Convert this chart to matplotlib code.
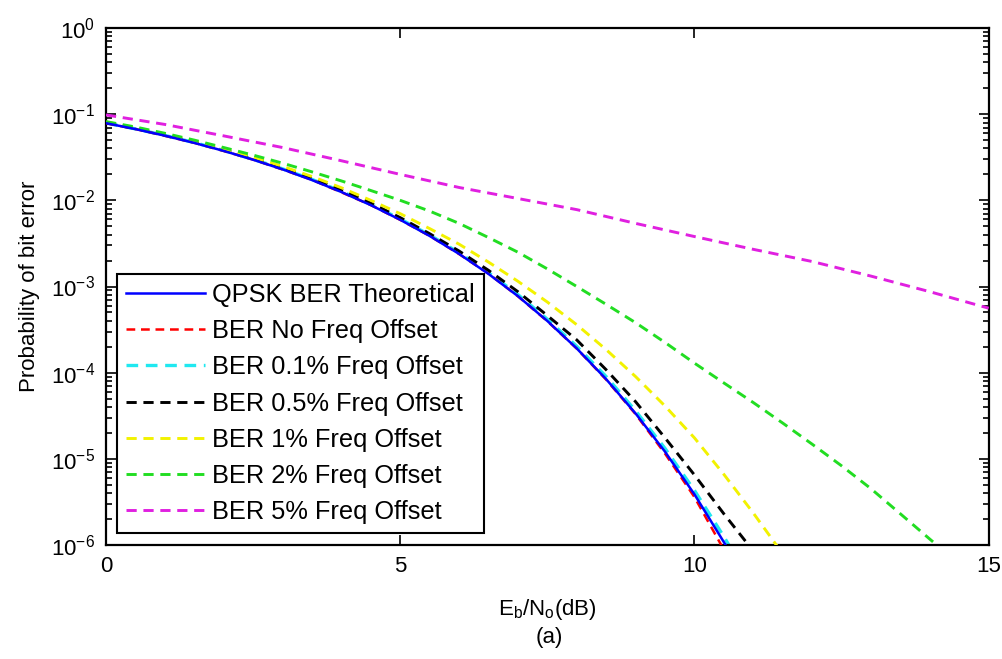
import numpy as np
import matplotlib
matplotlib.use("Agg")
import matplotlib.pyplot as plt

plt.rcParams['font.family'] = ['Liberation Sans', 'DejaVu Sans']
plt.rcParams['mathtext.default'] = 'regular'

# Eb/No grid (dB) and BER curves
ebno = [0, 0.5, 1, 1.5, 2, 2.5, 3, 3.5, 4, 4.5, 5, 5.5, 6, 6.5, 7, 7.5,
        8, 8.5, 9, 9.5, 10, 10.5, 10.6]
ber_theory = [7.86e-2, 6.71e-2, 5.63e-2, 4.64e-2, 3.75e-2, 2.96e-2, 2.29e-2,
              1.72e-2, 1.25e-2, 8.80e-3, 5.95e-3, 3.86e-3, 2.39e-3, 1.40e-3,
              7.73e-4, 3.98e-4, 1.91e-4, 8.4e-5, 3.36e-5, 1.21e-5, 3.87e-6,
              1.08e-6, 8.3e-7]
ber_no_offset = [7.84e-2, 6.73e-2, 5.61e-2, 4.65e-2, 3.74e-2, 2.97e-2, 2.28e-2,
                 1.73e-2, 1.24e-2, 8.82e-3, 5.93e-3, 3.87e-3, 2.38e-3, 1.41e-3,
                 7.70e-4, 3.96e-4, 1.90e-4, 8.3e-5, 3.3e-5, 1.15e-5, 3.6e-6,
                 8.8e-7, 7.0e-7]
ber_off_01 = [7.90e-2, 6.75e-2, 5.67e-2, 4.68e-2, 3.79e-2, 3.00e-2, 2.32e-2,
              1.75e-2, 1.27e-2, 8.98e-3, 6.08e-3, 3.96e-3, 2.46e-3, 1.45e-3,
              8.05e-4, 4.17e-4, 2.02e-4, 9.0e-5, 3.6e-5, 1.32e-5, 4.3e-6,
              1.25e-6, 9.6e-7]

ebno_05 = [0, 0.5, 1, 1.5, 2, 2.5, 3, 3.5, 4, 4.5, 5, 5.5, 6, 6.5, 7, 7.5,
           8, 8.5, 9, 9.5, 10, 10.5, 11]
ber_off_05 = [8.00e-2, 6.83e-2, 5.75e-2, 4.76e-2, 3.86e-2, 3.06e-2, 2.37e-2,
              1.79e-2, 1.31e-2, 9.3e-3, 6.3e-3, 4.1e-3, 2.58e-3, 1.54e-3,
              8.7e-4, 4.6e-4, 2.4e-4, 1.08e-4, 4.6e-5, 1.75e-5, 6.5e-6,
              2.3e-6, 8.5e-7]

ebno_1 = [0, 0.5, 1, 1.5, 2, 2.5, 3, 3.5, 4, 4.5, 5, 5.5, 6, 6.5, 7, 7.5,
          8, 8.5, 9, 9.5, 10, 10.5, 11, 11.5]
ber_off_1 = [8.10e-2, 6.95e-2, 5.85e-2, 4.88e-2, 3.98e-2, 3.18e-2, 2.48e-2,
             1.89e-2, 1.40e-2, 1.00e-2, 7.0e-3, 4.7e-3, 3.1e-3, 1.92e-3,
             1.15e-3, 6.6e-4, 3.6e-4, 1.85e-4, 9.0e-5, 4.1e-5, 1.75e-5,
             6.6e-6, 2.35e-6, 7.9e-7]

ebno_2 = [0, 0.5, 1, 1.5, 2, 2.5, 3, 3.5, 4, 4.5, 5, 5.5, 6, 6.5, 7, 7.5,
          8, 8.5, 9, 9.5, 10, 10.5, 11, 11.5, 12, 12.5, 13, 13.5, 14, 14.5]
ber_off_2 = [8.2e-2, 7.1e-2, 6.0e-2, 5.0e-2, 4.1e-2, 3.35e-2, 2.7e-2, 2.14e-2,
             1.68e-2, 1.30e-2, 1.00e-2, 7.5e-3, 5.4e-3, 3.7e-3, 2.5e-3,
             1.6e-3, 1.0e-3, 6.2e-4, 3.8e-4, 2.24e-4, 1.29e-4, 7.6e-5,
             4.5e-5, 2.6e-5, 1.48e-5, 8.3e-6, 4.5e-6, 2.3e-6, 1.17e-6, 6.0e-7]

ebno_5 = [0, 1, 2, 3, 4, 5, 6, 7, 8, 9, 10, 11, 12, 13, 14, 15]
ber_off_5 = [9.8e-2, 7.6e-2, 5.6e-2, 4.1e-2, 2.88e-2, 2.00e-2, 1.41e-2,
             1.05e-2, 7.8e-3, 5.4e-3, 3.8e-3, 2.7e-3, 1.95e-3, 1.32e-3,
             8.7e-4, 5.6e-4]

labels = ['QPSK BER Theoretical', 'BER No Freq Offset', 'BER 0.1% Freq Offset',
          'BER 0.5% Freq Offset', 'BER 1% Freq Offset', 'BER 2% Freq Offset',
          'BER 5% Freq Offset']
x_ticks = [0, 5, 10, 15]

fig = plt.figure(figsize=(10.03, 6.59), dpi=100)
ax = fig.add_axes([0.1057, 0.173, 0.8800, 0.7845])

dash = (0, (3.5, 2.3))
lw = 1.8
ax.plot(ebno, ber_off_01, color='#20e8f0', ls=dash, lw=lw + 0.6, label=labels[2], zorder=2)
ax.plot(ebno, ber_no_offset, color='#ff0000', ls=dash, lw=lw, label=labels[1], zorder=3)
ax.plot(ebno, ber_theory, color='#0000ff', ls='-', lw=lw, label=labels[0], zorder=4)
ax.plot(ebno_05, ber_off_05, color='#000000', ls=dash, lw=lw + 0.3, label=labels[3], zorder=3)
ax.plot(ebno_1, ber_off_1, color='#f2f200', ls=dash, lw=lw + 0.3, label=labels[4], zorder=3)
ax.plot(ebno_2, ber_off_2, color='#22dd22', ls=dash, lw=lw + 0.3, label=labels[5], zorder=3)
ax.plot(ebno_5, ber_off_5, color='#e020e0', ls=dash, lw=lw + 0.3, label=labels[6], zorder=3)

ax.set_yscale('log')
ax.set_xlim(0, 15)
ax.set_ylim(1e-6, 1)
ax.set_xticks(x_ticks)
ax.set_xticklabels([str(t) for t in x_ticks])

ax.tick_params(which='both', direction='in', top=True, right=True,
               labelsize=16, width=1.2, pad=8)
ax.tick_params(which='major', length=7)
ax.tick_params(which='minor', length=4)
for s in ax.spines.values():
    s.set_linewidth(1.6)

ax.set_xlabel(r'E$_{b}$/N$_{o}$(dB)', fontsize=16, labelpad=14)
ax.set_ylabel('Probability of bit error', fontsize=16, labelpad=8)
fig.text(0.5478, 0.033, '(a)', ha='center', va='center', fontsize=16)

handles, labs = ax.get_legend_handles_labels()
order = [labs.index(l) for l in labels]
leg = ax.legend([handles[i] for i in order], [labs[i] for i in order],
                loc='lower left', bbox_to_anchor=(0.0124, 0.0232),
                borderaxespad=0, fontsize=18.3, fancybox=False, framealpha=1,
                edgecolor='black', handlelength=3.1, handletextpad=0.3,
                labelspacing=0.48, borderpad=0.35)
leg.get_frame().set_linewidth(1.5)

fig.savefig('out.png', dpi=100)
